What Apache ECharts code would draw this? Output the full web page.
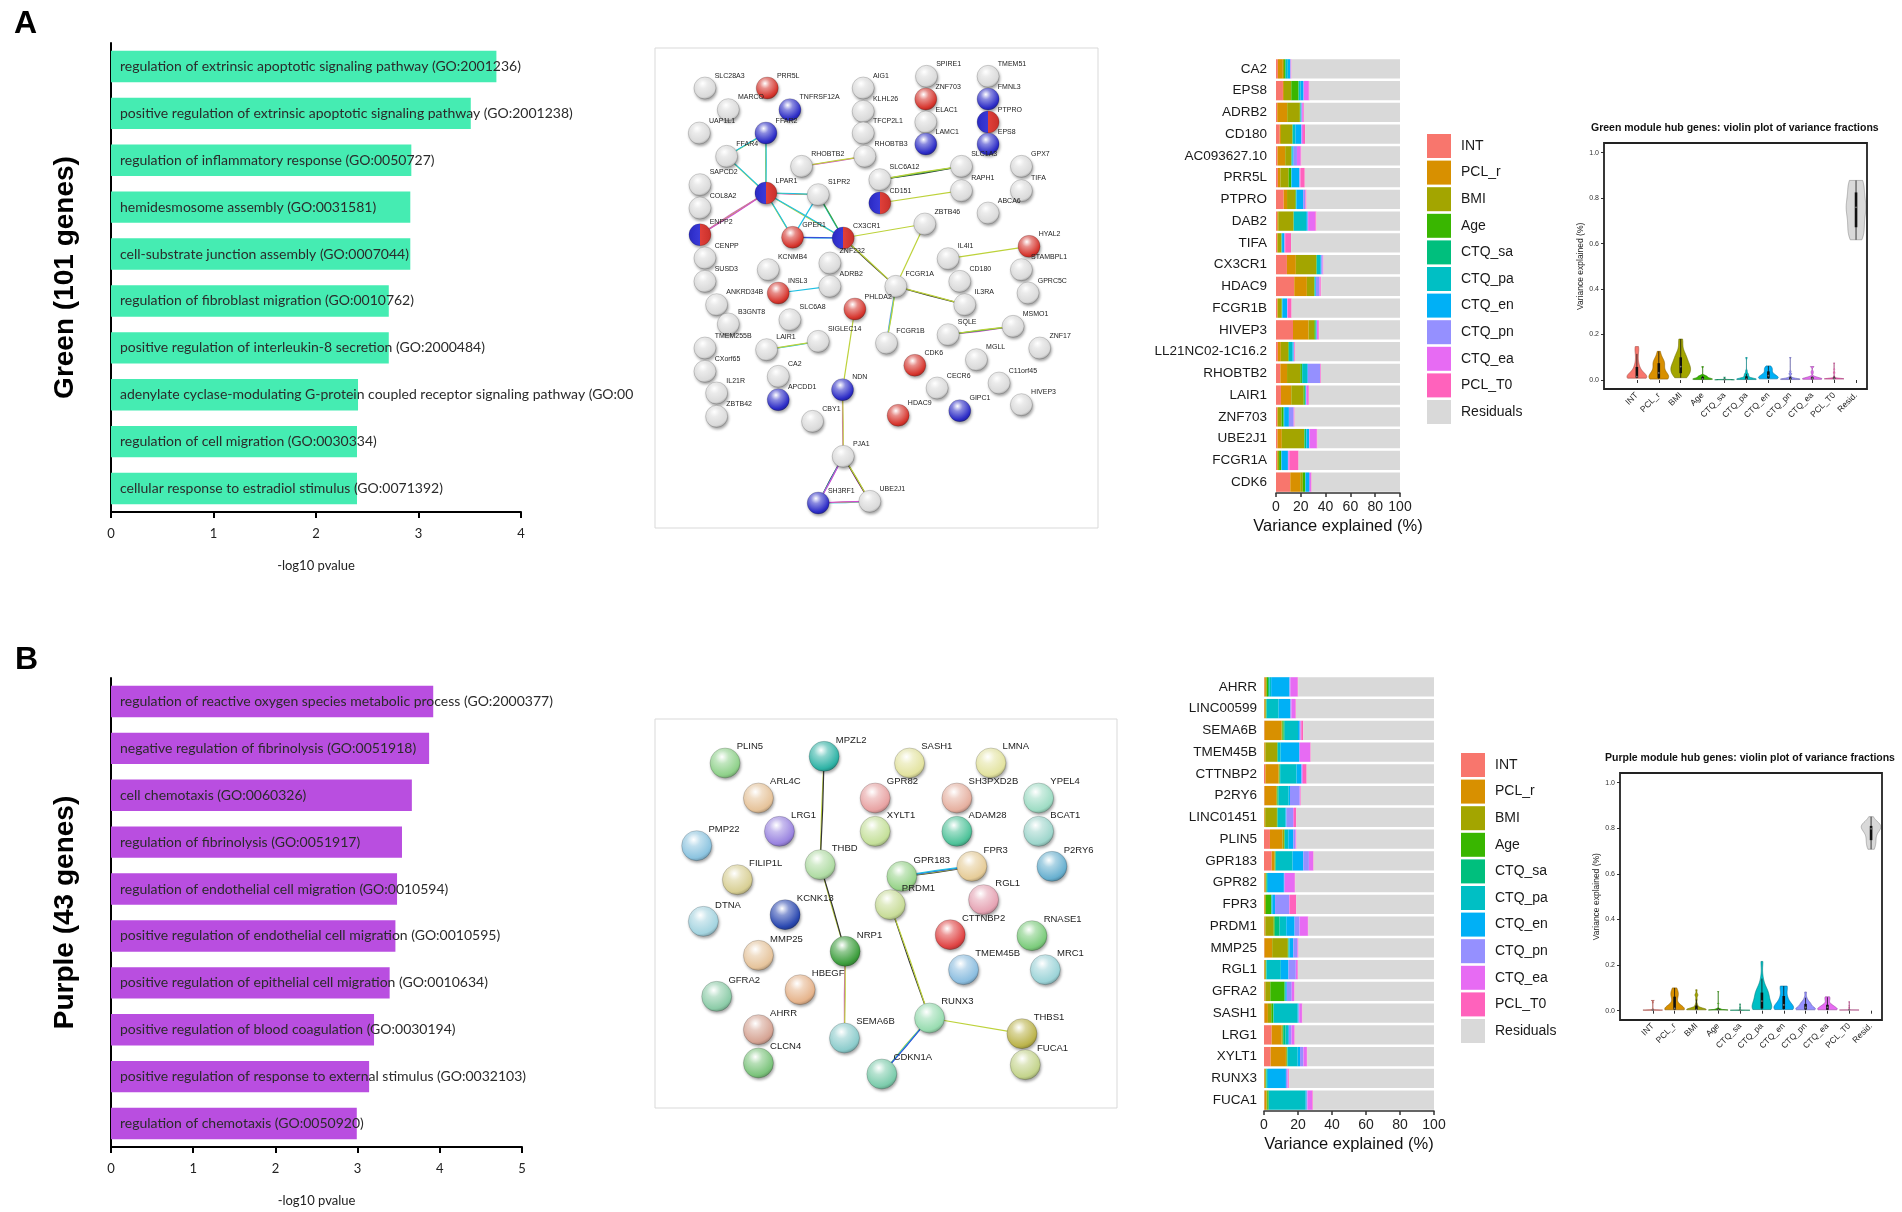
<!DOCTYPE html>
<html>
<head>
<meta charset="utf-8">
<script src="https://cdn.jsdelivr.net/npm/echarts@6/dist/echarts.min.js"></script>
<style>
  html, body { margin: 0; padding: 0; background: #fff; }
  #main { width: 1902px; height: 1212px; }
</style>
</head>
<body>
<div id="main"></div>
<script>
// ---- GO enrichment (-log10 p) ----
var goTermsA = [
  'regulation of extrinsic apoptotic signaling pathway (GO:2001236)',
  'positive regulation of extrinsic apoptotic signaling pathway (GO:2001238)',
  'regulation of inflammatory response (GO:0050727)',
  'hemidesmosome assembly (GO:0031581)',
  'cell-substrate junction assembly (GO:0007044)',
  'regulation of fibroblast migration (GO:0010762)',
  'positive regulation of interleukin-8 secretion (GO:2000484)',
  'adenylate cyclase-modulating G-protein coupled receptor signaling pathway (GO:00',
  'regulation of cell migration (GO:0030334)',
  'cellular response to estradiol stimulus (GO:0071392)'
];
var goValuesA = [3.76, 3.51, 2.93, 2.92, 2.92, 2.71, 2.71, 2.41, 2.40, 2.40];

var goTermsB = [
  'regulation of reactive oxygen species metabolic process (GO:2000377)',
  'negative regulation of fibrinolysis (GO:0051918)',
  'cell chemotaxis (GO:0060326)',
  'regulation of fibrinolysis (GO:0051917)',
  'regulation of endothelial cell migration (GO:0010594)',
  'positive regulation of endothelial cell migration (GO:0010595)',
  'positive regulation of epithelial cell migration (GO:0010634)',
  'positive regulation of blood coagulation (GO:0030194)',
  'positive regulation of response to external stimulus (GO:0032103)',
  'regulation of chemotaxis (GO:0050920)'
];
var goValuesB = [3.92, 3.87, 3.66, 3.54, 3.48, 3.46, 3.39, 3.20, 3.14, 2.99];

// ---- variance partition ----
var components = ['INT', 'PCL_r', 'BMI', 'Age', 'CTQ_sa', 'CTQ_pa', 'CTQ_en', 'CTQ_pn', 'CTQ_ea', 'PCL_T0'];
var componentColors = ['#F8766D', '#D89000', '#A3A500', '#39B600', '#00BF7D', '#00BFC4', '#00B0F6', '#9590FF', '#E76BF3', '#FF62BC'];
var residualName = 'Residuals';
var residualColor = '#D9D9D9';

var genesA = ['CA2', 'EPS8', 'ADRB2', 'CD180', 'AC093627.10', 'PRR5L', 'PTPRO', 'DAB2', 'TIFA', 'CX3CR1',
  'HDAC9', 'FCGR1B', 'HIVEP3', 'LL21NC02-1C16.2', 'RHOBTB2', 'LAIR1', 'ZNF703', 'UBE2J1', 'FCGR1A', 'CDK6'];
// % variance explained, columns follow `components`
var varA = [
  [1.5, 4, 1, 1, 0.5, 1.5, 2, 0.3, 0.3, 0.4],
  [5.6, 0.8, 5.9, 5.9, 0.2, 1.5, 2.2, 0.5, 3.8, 0.6],
  [1, 8, 10.2, 0.4, 0.1, 0.3, 0.5, 0.6, 1, 0.5],
  [3, 1, 9.1, 0.3, 0.2, 2, 4.8, 0.4, 1, 1.7],
  [1.2, 6.2, 4.8, 0.3, 0.2, 0.5, 1, 2.7, 3, 0.6],
  [1.5, 2, 6.7, 1.9, 0.2, 0.4, 6.2, 0.3, 0.5, 3.5],
  [6.2, 2.7, 6.7, 0.5, 0.1, 0.3, 5.4, 1.6, 0.3, 0.8],
  [1, 0.8, 12.3, 0.2, 0.1, 9.9, 1.2, 0.4, 5.9, 0.8],
  [0.8, 0.5, 3, 0.2, 0.1, 0.3, 1.9, 0.2, 0.4, 4.8],
  [8.8, 7.2, 16.4, 0.4, 0.2, 2.7, 0.8, 1, 0.3, 0.5],
  [14.7, 10.2, 5.9, 0.3, 0.1, 0.4, 0.6, 2.7, 1, 0.6],
  [1, 0.5, 3, 0.3, 0.1, 0.2, 3.8, 0.3, 0.4, 3],
  [13.7, 12.6, 4.6, 1, 0.1, 0.3, 0.5, 0.3, 1.3, 0.4],
  [1.5, 2.4, 5.9, 0.5, 0.2, 2.7, 1, 0.3, 0.3, 0.5],
  [3.5, 5.4, 10.7, 1.3, 0.2, 4, 0.6, 9.9, 0.3, 0.4],
  [4, 8.3, 9.9, 1, 0.1, 0.4, 0.5, 0.3, 1.6, 0.5],
  [1, 0.5, 3, 1.6, 0.2, 0.3, 3.8, 3.8, 0.3, 0.5],
  [1.2, 3.5, 18, 0.3, 1.2, 0.4, 2.1, 0.3, 5.9, 0.5],
  [0.8, 0.4, 1.3, 1.6, 0.1, 0.3, 5.1, 0.3, 0.8, 7.5],
  [11.5, 8, 2.1, 1.9, 0.1, 0.3, 2.7, 0.8, 0.8, 0.5]
];

var genesB = ['AHRR', 'LINC00599', 'SEMA6B', 'TMEM45B', 'CTTNBP2', 'P2RY6', 'LINC01451', 'PLIN5', 'GPR183', 'GPR82',
  'FPR3', 'PRDM1', 'MMP25', 'RGL1', 'GFRA2', 'SASH1', 'LRG1', 'XYLT1', 'RUNX3', 'FUCA1'];
var varB = [
  [0.3, 0.8, 0.5, 0.8, 0.8, 1, 10.8, 0.5, 4.3, 0.3],
  [0.2, 0.5, 0.4, 0.3, 0.2, 7, 6.9, 0.6, 2.4, 0.3],
  [0.3, 10, 0.5, 0.7, 0.7, 7.8, 1, 0.5, 0.4, 1.2],
  [0.2, 0.6, 6.9, 0.3, 0.2, 1.6, 10.8, 0.5, 6.1, 0.3],
  [0.8, 7.8, 0.4, 0.3, 0.2, 9.6, 2.9, 0.4, 0.5, 2.2],
  [0.3, 6.9, 0.5, 0.3, 0.6, 5.9, 0.8, 5.7, 0.4, 0.3],
  [0.2, 0.5, 6.9, 0.3, 0.2, 4.5, 0.6, 3.9, 0.5, 1.4],
  [3.5, 7.3, 1, 0.3, 0.2, 2, 2.9, 1.2, 0.4, 0.3],
  [4.5, 1.6, 0.4, 0.3, 0.2, 9.8, 6.3, 3.3, 2.5, 0.3],
  [0.3, 0.5, 0.4, 0.3, 0.2, 0.6, 9.4, 0.5, 5.9, 0.3],
  [0.2, 0.4, 0.5, 3.1, 0.2, 0.5, 1.6, 8.2, 0.4, 3.9],
  [0.3, 0.5, 4.9, 0.6, 2.9, 3.9, 4.9, 2.9, 4.9, 0.3],
  [0.3, 4.5, 9.2, 0.3, 0.2, 0.5, 2.2, 2.4, 0.4, 0.3],
  [0.2, 0.4, 0.4, 0.3, 0.2, 8.4, 4.5, 4.3, 1, 0.3],
  [0.3, 0.5, 2.9, 8.4, 0.2, 0.5, 0.6, 2.9, 1.4, 0.3],
  [0.3, 2, 2, 1.2, 0.2, 14.1, 0.5, 0.4, 1.6, 0.3],
  [4.5, 5.9, 0.6, 0.3, 1.4, 1.4, 0.5, 1.6, 1.6, 0.3],
  [3.9, 9, 0.5, 0.3, 0.2, 5.9, 1.4, 2, 2, 0.3],
  [0.2, 0.4, 0.4, 0.3, 0.2, 0.8, 10.6, 1, 0.4, 0.6],
  [0.3, 1.2, 0.4, 0.8, 0.2, 21.6, 0.6, 0.5, 2.9, 0.3]
];

var violinLabels = ['INT', 'PCL_r', 'BMI', 'Age', 'CTQ_sa', 'CTQ_pa', 'CTQ_en', 'CTQ_pn', 'CTQ_ea', 'PCL_T0', 'Resid.'];

// ---- STRING networks: [gene, x, y, colour] in layout units ----
var netNodesA = [
  ['SLC28A3', 165, 130, 'w'], ['PRR5L', 352, 130, 'r'], ['MARCO', 235, 195, 'w'], ['TNFRSF12A', 420, 195, 'b'],
  ['UAP1L1', 148, 265, 'w'], ['FFAR2', 348, 265, 'b'], ['FFAR4', 230, 335, 'w'], ['SAPCD2', 150, 420, 'w'],
  ['COL8A2', 150, 490, 'w'], ['ENPP2', 150, 570, 'br'], ['CENPP', 165, 640, 'w'], ['SUSD3', 165, 710, 'w'],
  ['ANKRD34B', 200, 780, 'w'], ['B3GNT8', 235, 838, 'w'], ['TMEM255B', 165, 910, 'w'], ['CXorf65', 165, 980, 'w'],
  ['IL21R', 200, 1045, 'w'], ['ZBTB42', 200, 1115, 'w'], ['LPAR1', 348, 445, 'br'], ['RHOBTB2', 455, 365, 'w'],
  ['S1PR2', 505, 450, 'w'], ['GPER1', 428, 578, 'r'], ['CX3CR1', 580, 580, 'br'], ['ZNF232', 540, 655, 'w'],
  ['KCNMB4', 355, 675, 'w'], ['ADRB2', 540, 725, 'w'], ['INSL3', 385, 745, 'r'], ['PHLDA2', 615, 793, 'r'],
  ['SLC6A8', 420, 825, 'w'], ['LAIR1', 350, 915, 'w'], ['SIGLEC14', 505, 890, 'w'], ['CA2', 385, 995, 'w'],
  ['APCDD1', 385, 1065, 'b'], ['NDN', 578, 1035, 'b'], ['CBY1', 488, 1130, 'w'], ['PJA1', 580, 1235, 'w'],
  ['SH3RF1', 505, 1375, 'b'], ['UBE2J1', 660, 1370, 'w'], ['AIG1', 640, 130, 'w'], ['KLHL26', 640, 200, 'w'],
  ['TFCP2L1', 640, 265, 'w'], ['RHOBTB3', 645, 335, 'w'], ['SLC6A12', 690, 405, 'w'], ['CD151', 690, 475, 'br'],
  ['SPIRE1', 830, 95, 'w'], ['ZNF703', 828, 163, 'r'], ['ELAC1', 828, 232, 'w'], ['LAMC1', 828, 298, 'b'],
  ['TMEM51', 1015, 95, 'w'], ['FMNL3', 1015, 163, 'b'], ['PTPRO', 1015, 232, 'br'], ['EPS8', 1015, 298, 'b'],
  ['SLC1A3', 935, 365, 'w'], ['RAPH1', 935, 438, 'w'], ['GPX7', 1115, 365, 'w'], ['TIFA', 1115, 438, 'w'],
  ['ABCA6', 1015, 505, 'w'], ['ZBTB46', 825, 538, 'w'], ['HYAL2', 1138, 605, 'r'], ['IL4I1', 895, 642, 'w'],
  ['STAMBPL1', 1115, 675, 'w'], ['CD180', 930, 710, 'w'], ['GPRC5C', 1135, 745, 'w'], ['FCGR1A', 738, 725, 'w'],
  ['IL3RA', 945, 780, 'w'], ['MSMO1', 1090, 845, 'w'], ['SQLE', 895, 870, 'w'], ['FCGR1B', 710, 895, 'w'],
  ['ZNF17', 1170, 910, 'w'], ['MGLL', 980, 945, 'w'], ['CDK6', 795, 962, 'r'], ['C11orf45', 1048, 1015, 'w'],
  ['CECR6', 862, 1030, 'w'], ['HIVEP3', 1115, 1080, 'w'], ['GIPC1', 930, 1098, 'b'], ['HDAC9', 745, 1112, 'r']
];
// [source, target, evidence letters]
var netLinksA = [
  ['FFAR4', 'FFAR2', 'yc'], ['FFAR4', 'LPAR1', 'yc'], ['FFAR2', 'LPAR1', 'yc'], ['LPAR1', 'ENPP2', 'mym'],
  ['LPAR1', 'S1PR2', 'myc'], ['LPAR1', 'GPER1', 'yc'], ['LPAR1', 'CX3CR1', 'yc'], ['S1PR2', 'GPER1', 'c'],
  ['S1PR2', 'CX3CR1', 'cg'], ['GPER1', 'CX3CR1', 'cb'], ['RHOBTB2', 'RHOBTB3', 'my'], ['SLC6A12', 'SLC1A3', 'kgy'],
  ['CD151', 'RAPH1', 'y'], ['CX3CR1', 'ZBTB46', 'y'], ['CX3CR1', 'FCGR1A', 'ky'], ['ZBTB46', 'FCGR1A', 'y'],
  ['FCGR1A', 'IL3RA', 'ky'], ['FCGR1A', 'FCGR1B', 'pcy'], ['IL4I1', 'HYAL2', 'y'], ['SQLE', 'MSMO1', 'mgy'],
  ['INSL3', 'ADRB2', 'c'], ['LAIR1', 'SIGLEC14', 'cy'], ['PHLDA2', 'NDN', 'y'], ['NDN', 'PJA1', 'my'],
  ['PJA1', 'SH3RF1', 'kcm'], ['PJA1', 'UBE2J1', 'mky'], ['SH3RF1', 'UBE2J1', 'cym']
];

var netNodesB = [
  ['PLIN5', 225, 160, '#8fd18a'], ['MPZL2', 522, 140, '#2fb3a6'], ['SASH1', 778, 160, '#e3e3a0'],
  ['LMNA', 1022, 160, '#e3e3a0'], ['ARL4C', 325, 265, '#e6c39a'], ['GPR82', 675, 265, '#e8a3a3'],
  ['SH3PXD2B', 920, 265, '#e6b0a0'], ['YPEL4', 1165, 265, '#9edcc4'], ['LRG1', 388, 365, '#9a84e0'],
  ['XYLT1', 675, 365, '#c5e09a'], ['ADAM28', 920, 365, '#4fc39a'], ['BCAT1', 1165, 365, '#9ed6cc'],
  ['PMP22', 140, 408, '#8cc4e0'], ['THBD', 510, 465, '#b0dca4'], ['GPR183', 755, 500, '#98d48a'],
  ['FPR3', 965, 470, '#e6cc98'], ['P2RY6', 1205, 470, '#68b0d0'], ['FILIP1L', 262, 510, '#d8cf94'],
  ['PRDM1', 720, 585, '#c8dc98'], ['RGL1', 1000, 570, '#e6a4b4'], ['DTNA', 160, 635, '#a4d4e0'],
  ['KCNK13', 405, 615, '#2a48b0'], ['CTTNBP2', 900, 675, '#e04444'], ['RNASE1', 1145, 678, '#7ccc7c'],
  ['NRP1', 585, 725, '#3d9e3d'], ['MMP25', 325, 737, '#e6c49c'], ['TMEM45B', 940, 780, '#8cbee0'],
  ['MRC1', 1185, 780, '#9cd4d8'], ['HBEGF', 450, 840, '#e6b48c'], ['GFRA2', 200, 860, '#8ccca8'],
  ['RUNX3', 838, 925, '#98dcb0'], ['THBS1', 1115, 972, '#bcb44c'], ['AHRR', 325, 960, '#d6a494'],
  ['SEMA6B', 583, 985, '#8ccccc'], ['CLCN4', 325, 1060, '#7cc47c'], ['CDKN1A', 695, 1093, '#7cccac'],
  ['FUCA1', 1125, 1065, '#c4d48c']
];
var netLinksB = [
  ['MPZL2', 'THBD', 'yk'], ['THBD', 'NRP1', 'yk'], ['NRP1', 'SEMA6B', 'my'], ['GPR183', 'FPR3', 'kybc'],
  ['PRDM1', 'RUNX3', 'ky'], ['RUNX3', 'CDKN1A', 'ycb'], ['RUNX3', 'THBS1', 'y']
];

var evidenceColors = { y: '#bdd23a', c: '#1fc0e3', m: '#d14bd1', k: '#333333', g: '#3aa84a', b: '#3550d8', p: '#a3a3e8' };
var nodeBaseA = { w: '#dadada', r: '#d6342c', b: '#2b2bc6' };

// ---- helpers ----
function hexRgb(h) { h = h.replace('#', ''); return [parseInt(h.substr(0, 2), 16), parseInt(h.substr(2, 2), 16), parseInt(h.substr(4, 2), 16)]; }
function mix(a, b, t) {
  var x = hexRgb(a), y = hexRgb(b);
  return 'rgb(' + x.map(function (v, i) { return Math.round(v + (y[i] - v) * t); }).join(',') + ')';
}
function ball(base) {
  return new echarts.graphic.RadialGradient(0.4, 0.3, 0.75, [
    { offset: 0, color: '#ffffff' },
    { offset: 0.3, color: mix(base, '#ffffff', 0.45) },
    { offset: 0.8, color: base },
    { offset: 1, color: mix(base, '#000000', 0.3) }
  ]);
}
function splitBall() {
  return new echarts.graphic.LinearGradient(0, 0, 1, 0, [
    { offset: 0, color: '#2b2bc6' }, { offset: 0.5, color: '#3a3ad8' },
    { offset: 0.5, color: '#e0403a' }, { offset: 1, color: '#c9302a' }
  ]);
}

function buildGraph(nodes, links, colourOf) {
  var index = {};
  var data = nodes.map(function (n, i) {
    index[n[0]] = i;
    return { name: n[0], value: [n[1], n[2]], itemStyle: { color: colourOf(n[3]) } };
  });
  var edges = [];
  links.forEach(function (l) {
    var ev = l[2].split('');
    ev.forEach(function (e, j) {
      edges.push({
        source: index[l[0]], target: index[l[1]],
        lineStyle: { color: evidenceColors[e], curveness: (j - (ev.length - 1) / 2) * 0.018 }
      });
    });
  });
  return { data: data, links: edges };
}

function quantile(s, p) {
  var h = (s.length - 1) * p, lo = Math.floor(h), hi = Math.min(lo + 1, s.length - 1);
  return s[lo] + (h - lo) * (s[hi] - s[lo]);
}
// gaussian kernel density with R's bw.nrd0, trimmed to the data range
function violinShape(vals) {
  var s = vals.slice().sort(function (a, b) { return a - b; });
  var n = s.length, mean = s.reduce(function (a, b) { return a + b; }, 0) / n;
  var sd = Math.sqrt(s.reduce(function (a, b) { return a + (b - mean) * (b - mean); }, 0) / (n - 1));
  var q1 = quantile(s, 0.25), med = quantile(s, 0.5), q3 = quantile(s, 0.75);
  var lo = Math.min(sd, (q3 - q1) / 1.34);
  if (!lo) lo = sd || Math.abs(s[0]) || 1;
  var bw = 0.9 * lo * Math.pow(n, -0.2);
  var ys = [], ds = [], steps = 64, mx = 0;
  for (var i = 0; i <= steps; i++) {
    var y = s[0] + (s[n - 1] - s[0]) * i / steps, d = 0;
    s.forEach(function (v) { var z = (y - v) / bw; d += Math.exp(-0.5 * z * z); });
    ys.push(y); ds.push(d); mx = Math.max(mx, d);
  }
  var iqr = q3 - q1;
  var wlo = s.filter(function (v) { return v >= q1 - 1.5 * iqr; })[0];
  var whi = s.filter(function (v) { return v <= q3 + 1.5 * iqr; }).pop();
  return { ys: ys, ws: ds.map(function (d) { return d / mx; }), q1: q1, med: med, q3: q3, wlo: wlo, whi: whi };
}
function violinShapes(rows) {
  var out = components.map(function (c, k) {
    return violinShape(rows.map(function (r) { return r[k] / 100; }));
  });
  out.push(violinShape(rows.map(function (r) {
    return (100 - r.reduce(function (a, b) { return a + b; }, 0)) / 100;
  })));
  return out;
}
var violinColors = componentColors.concat([residualColor]);

function violinRenderer(shapes) {
  return function (params, api) {
    var cat = api.value(0), s = shapes[cat - 1], col = violinColors[cat - 1];
    var cx = api.coord([cat, 0])[0];
    var half = api.size([1, 0])[0] * 0.45;
    var right = [], left = [];
    for (var i = 0; i < s.ys.length; i++) {
      var py = api.coord([cat, s.ys[i]])[1];
      right.push([cx + s.ws[i] * half, py]);
      left.unshift([cx - s.ws[i] * half, py]);
    }
    return {
      type: 'group',
      children: [
        { type: 'polygon', shape: { points: right.concat(left) },
          style: { fill: col, stroke: mix(col, '#000000', 0.35), lineWidth: 0.6 } },
        { type: 'line', shape: { x1: cx, y1: api.coord([cat, s.wlo])[1], x2: cx, y2: api.coord([cat, s.whi])[1] },
          style: { stroke: '#111', lineWidth: 0.8 } },
        { type: 'line', shape: { x1: cx, y1: api.coord([cat, s.q1])[1], x2: cx, y2: api.coord([cat, s.q3])[1] },
          style: { stroke: '#111', lineWidth: 2.6 } },
        { type: 'circle', shape: { cx: cx, cy: api.coord([cat, s.med])[1], r: 0.9 }, style: { fill: '#777' } }
      ]
    };
  };
}

// ---- option ----
var chart = echarts.init(document.getElementById('main'));

var netA = buildGraph(netNodesA, netLinksA, function (k) { return k === 'br' ? splitBall() : ball(nodeBaseA[k]); });
var netB = buildGraph(netNodesB, netLinksB, function (k) { return ball(k); });
var shapesA = violinShapes(varA);
var shapesB = violinShapes(varB);
var violinCats = [''].concat(violinLabels);
var violinData = violinLabels.map(function (l, i) { return [i + 1, 0]; });
var legendNames = components.concat([residualName]);

function goXAxis(grid, max) {
  return {
    gridIndex: grid, type: 'value', min: 0, max: max, interval: 1,
    name: '-log10 pvalue', nameLocation: 'middle', nameGap: 47,
    nameTextStyle: { fontFamily: 'Lato', fontSize: 13, color: '#222' },
    axisLine: { show: true, lineStyle: { color: '#000', width: 2 } },
    axisTick: { show: true, length: 6, lineStyle: { color: '#000', width: 2 } },
    axisLabel: { fontFamily: 'Lato', fontSize: 13, color: '#222', margin: 15 },
    splitLine: { show: false }
  };
}
function goYAxis(grid, terms, title) {
  return {
    gridIndex: grid, type: 'category', data: terms, inverse: true,
    name: title, nameLocation: 'middle', nameRotate: 90, nameGap: 32,
    nameTextStyle: { fontSize: 28, fontWeight: 'bold', color: '#000' },
    axisLine: { show: true, lineStyle: { color: '#000', width: 2 } },
    axisTick: { show: false }, axisLabel: { show: false }
  };
}
function goSeries(grid, values, color) {
  return {
    type: 'bar', xAxisIndex: grid, yAxisIndex: grid, data: values, barCategoryGap: '33%',
    itemStyle: { color: color }, silent: true,
    label: { show: true, position: 'insideLeft', distance: 9, formatter: function (p) { return p.name; },
      fontFamily: 'Lato', fontSize: 14, color: '#2b2b2b' }
  };
}
function stackXAxis(grid) {
  return {
    gridIndex: grid, type: 'value', min: 0, max: 100, interval: 20,
    name: 'Variance explained (%)', nameLocation: 'middle', nameGap: 25,
    nameTextStyle: { fontSize: 16.5, color: '#111' },
    axisLine: { show: true, lineStyle: { color: '#333', width: 1.5 } },
    axisTick: { show: true, length: 4, lineStyle: { color: '#333', width: 1.5 } },
    axisLabel: { fontSize: 14, color: '#222', margin: 7 },
    splitLine: { show: false }
  };
}
function stackYAxis(grid, genes, margin) {
  return {
    gridIndex: grid, type: 'category', data: genes, inverse: true,
    axisLine: { show: false }, axisTick: { show: false },
    axisLabel: { fontSize: 13.5, color: '#1a1a1a', margin: margin, interval: 0 }
  };
}
function stackSeries(grid, rows, stack) {
  var list = components.map(function (c, k) {
    return {
      type: 'bar', name: c, stack: stack, xAxisIndex: grid, yAxisIndex: grid, barCategoryGap: '11%',
      itemStyle: { color: componentColors[k] }, silent: true,
      data: rows.map(function (r) { return r[k]; })
    };
  });
  list.push({
    type: 'bar', name: residualName, stack: stack, xAxisIndex: grid, yAxisIndex: grid, barCategoryGap: '11%',
    itemStyle: { color: residualColor }, silent: true,
    data: rows.map(function (r) { return +(100 - r.reduce(function (a, b) { return a + b; }, 0)).toFixed(2); })
  });
  return list;
}
function stackLegend(left, top) {
  return {
    orient: 'vertical', left: left, top: top, padding: 0, data: legendNames, icon: 'rect',
    itemWidth: 24, itemHeight: 24, itemGap: 2.6, selectedMode: false,
    textStyle: { fontSize: 14, color: '#1a1a1a', padding: [0, 0, 0, 5] }
  };
}
function violinXAxis(grid) {
  return {
    gridIndex: grid, type: 'category', data: violinCats, boundaryGap: true, offset: 9,
    axisLine: { show: false },
    axisTick: { show: true, alignWithLabel: true, length: 3, lineStyle: { color: '#333' },
      interval: function (i) { return i > 0; } },
    axisLabel: { rotate: 45, fontSize: 8.5, color: '#222', margin: 5, interval: 0 }
  };
}
function violinYAxis(grid) {
  return {
    gridIndex: grid, type: 'value', min: 0, max: 1, interval: 0.2,
    name: 'Variance explained (%)', nameLocation: 'middle', nameGap: 14,
    nameTextStyle: { fontSize: 8.5, color: '#222' },
    axisLine: { show: false },
    axisTick: { show: true, length: 3, lineStyle: { color: '#333' } },
    axisLabel: { fontSize: 7, color: '#333', margin: 5, formatter: function (v) { return v.toFixed(1); } },
    splitLine: { show: false }
  };
}
function netSeries(grid, net, size, labelPos, fontSize) {
  return {
    type: 'graph', coordinateSystem: 'cartesian2d', xAxisIndex: grid, yAxisIndex: grid,
    symbol: 'circle', symbolSize: size, data: net.data, links: net.links, silent: true,
    itemStyle: { borderColor: 'rgba(0,0,0,0.28)', borderWidth: 0.6,
      shadowBlur: 3, shadowColor: 'rgba(0,0,0,0.35)', shadowOffsetX: 1, shadowOffsetY: 2 },
    lineStyle: { width: 1.2, opacity: 1 },
    label: { show: true, position: labelPos, verticalAlign: 'middle', align: 'left',
      fontSize: fontSize, color: '#222', formatter: '{b}' }
  };
}

var gridBase = { outerBoundsMode: 'none', containLabel: false };
function g(o) { return Object.assign({}, gridBase, o); }

var option = {
  animation: false,
  backgroundColor: '#ffffff',
  textStyle: { fontFamily: 'Liberation Sans' },
  grid: [
    g({ left: 111, top: 43, width: 410, height: 469 }),
    g({ left: 111, top: 678, width: 411, height: 469 }),
    g({ left: 655, top: 48, width: 443, height: 480, show: true, borderColor: '#d9d9d9', borderWidth: 1, backgroundColor: 'transparent' }),
    g({ left: 655, top: 719, width: 462, height: 389, show: true, borderColor: '#d9d9d9', borderWidth: 1, backgroundColor: 'transparent' }),
    g({ left: 1276, top: 58, width: 124, height: 435 }),
    g({ left: 1264, top: 676, width: 170, height: 435 }),
    g({ left: 1604, top: 152.7, width: 263, height: 227.3 }),
    g({ left: 1620, top: 782.7, width: 262, height: 228 })
  ],
  xAxis: [
    goXAxis(0, 4), goXAxis(1, 5),
    { gridIndex: 2, type: 'value', min: 15, max: 1345, show: false },
    { gridIndex: 3, type: 'value', min: 15, max: 1400, show: false },
    stackXAxis(4), stackXAxis(5),
    violinXAxis(6), violinXAxis(7)
  ],
  yAxis: [
    goYAxis(0, goTermsA, 'Green (101 genes)'), goYAxis(1, goTermsB, 'Purple (43 genes)'),
    { gridIndex: 2, type: 'value', min: 10, max: 1450, inverse: true, show: false },
    { gridIndex: 3, type: 'value', min: 28, max: 1195, inverse: true, show: false },
    stackYAxis(4, genesA, 9), stackYAxis(5, genesB, 7),
    violinYAxis(6), violinYAxis(7)
  ],
  legend: [stackLegend(1427, 134), stackLegend(1461, 753)],
  series: [].concat(
    [goSeries(0, goValuesA, '#45ecb2'), goSeries(1, goValuesB, '#b94ee0')],
    [netSeries(2, netA, 22, [21, -1], 7), netSeries(3, netB, 30, [27, -1], 9.5)],
    stackSeries(4, varA, 'A'), stackSeries(5, varB, 'B'),
    [
      { type: 'custom', name: 'violinA', xAxisIndex: 6, yAxisIndex: 6, data: violinData,
        encode: { x: 0, y: 1 }, renderItem: violinRenderer(shapesA), silent: true },
      { type: 'custom', name: 'violinB', xAxisIndex: 7, yAxisIndex: 7, data: violinData,
        encode: { x: 0, y: 1 }, renderItem: violinRenderer(shapesB), silent: true }
    ]
  ),
  graphic: [
    { type: 'text', left: 14, top: 8, style: { text: 'A', fontSize: 32, fontWeight: 'bold', fill: '#000' } },
    { type: 'text', left: 15, top: 644, style: { text: 'B', fontSize: 32, fontWeight: 'bold', fill: '#000' } },
    { type: 'text', left: 1591, top: 123, style: { text: 'Green module hub genes: violin plot of variance fractions',
      fontSize: 10.5, fontWeight: 'bold', fill: '#111' } },
    { type: 'text', left: 1605, top: 753, style: { text: 'Purple module hub genes: violin plot of variance fractions',
      fontSize: 10.5, fontWeight: 'bold', fill: '#111' } },
    { type: 'rect', shape: { x: 1604, y: 143, width: 263, height: 246 }, style: { fill: 'none', stroke: '#222', lineWidth: 1.8 }, z: 10 },
    { type: 'rect', shape: { x: 1620, y: 773, width: 262, height: 247 }, style: { fill: 'none', stroke: '#222', lineWidth: 1.8 }, z: 10 }
  ]
};

chart.setOption(option);
</script>
</body>
</html>
